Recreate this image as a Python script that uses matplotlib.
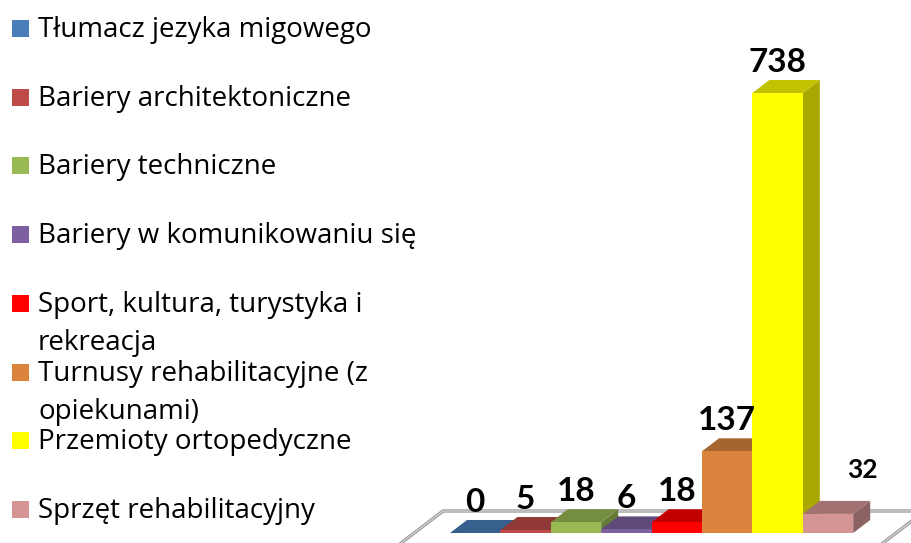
import matplotlib
matplotlib.use("Agg")
import matplotlib.pyplot as plt
from matplotlib.patches import Polygon, Rectangle
from matplotlib.colors import to_rgb

categories = ["Tłumacz jezyka migowego",
              "Bariery architektoniczne",
              "Bariery techniczne",
              "Bariery w komunikowaniu się",
              "Sport, kultura, turystyka i\nrekreacja",
              "Turnusy rehabilitacyjne (z\nopiekunami)",
              "Przemioty ortopedyczne",
              "Sprzęt rehabilitacyjny"]
values = [0, 5, 18, 6, 18, 137, 738, 32]
colors = ["#4A7EBB", "#BE4B48", "#98B954", "#7D60A0",
          "#FF0000", "#DB843D", "#FFFF00", "#D69595"]

plt.rcParams['font.family'] = ['Lato', 'DejaVu Sans']

W, H = 911, 543
fig = plt.figure(figsize=(W / 100, H / 100), dpi=100)
ax = fig.add_axes([0, 0, 1, 1])
ax.axis("off")

# pixel geometry of the fake 3d plot
bar_px = 50.4          # width of one bar
x0_px = 450            # left edge of first bar
base_px = 10           # value 0, from bottom
ppu = 440 / 738        # pixels per unit
ax.set_xlim(-x0_px / bar_px, (W - x0_px) / bar_px)
ax.set_ylim(-base_px / ppu, (H - base_px) / ppu)

dx = 17 / bar_px
dy = 13 / ppu


def shade(c, f):
    r, g, b = to_rgb(c)
    return (r * f, g * f, b * f)


# floor
t_back, t_front = 22 / 13, -14 / 13
fl_l, fl_r = -0.71, 8.85
floor = [(fl_l + t_front * dx, t_front * dy), (fl_l + t_back * dx, t_back * dy),
         (fl_r + t_back * dx, t_back * dy), (fl_r + t_front * dx, t_front * dy)]
ax.add_patch(Polygon(floor, closed=True, fill=False, edgecolor="#9A9A9A",
                     lw=2.4, zorder=1, clip_on=True))
ax.add_patch(Polygon(floor, closed=True, fill=False, edgecolor="#D9D9D9",
                     lw=0.8, zorder=1, clip_on=True))

for i, (v, c) in enumerate(zip(values, colors)):
    z = 10 + 3 * i
    x1, x2 = i, i + 1
    side = [(x2, 0), (x2 + dx, dy), (x2 + dx, v + dy), (x2, v)]
    top = [(x1, v), (x2, v), (x2 + dx, v + dy), (x1 + dx, v + dy)]
    ax.add_patch(Polygon(side, closed=True, facecolor=shade(c, 0.66),
                         edgecolor="none", zorder=z))
    ax.add_patch(Polygon(top, closed=True, facecolor=shade(c, 0.76),
                         edgecolor="none", zorder=z + 1))
    ax.bar(i + 0.5, v, width=1, color=c, zorder=z + 2, linewidth=0)

# data labels
label_shift = [(0, 0)] * 7 + [(34, 15)]
label_size = [24] * 7 + [19]
for i, v in enumerate(values):
    sx, sy = label_shift[i]
    ax.text(i + 0.5 + sx / bar_px, v + dy + (8 + sy) / ppu, str(v),
            ha="center", va="baseline", fontsize=label_size[i],
            fontweight="bold", color="black", zorder=50)

# legend
slot = 68.7
first_base = 37
for i, (lab, c) in enumerate(zip(categories, colors)):
    base = first_base + i * slot
    fig.patches.append(Rectangle((12 / W, 1 - base / H), 17 / W, 17 / H,
                                 transform=fig.transFigure, facecolor=c,
                                 edgecolor="none"))
    for j, line in enumerate(lab.split("\n")):
        fig.text(38 / W, 1 - (base + j * 38) / H, line, ha="left",
                 va="baseline", fontsize=20, color="black",
                 family=["Open Sans", "DejaVu Sans"])

fig.savefig("out.png", dpi=100)
